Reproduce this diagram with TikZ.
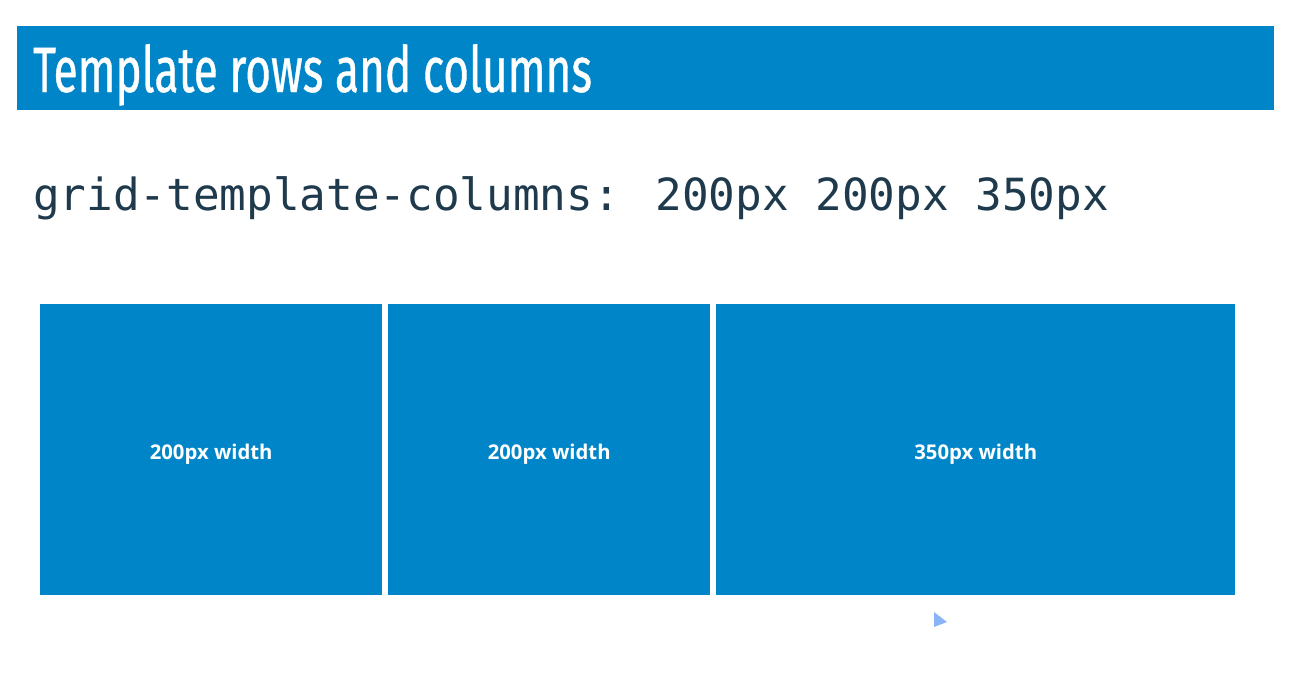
\documentclass[tikz,border=0pt]{standalone}
\usepackage{fontspec}
\setmainfont{Open Sans}
\newfontfamily\titlefont[FakeStretch=0.69,FakeBold=0.6]{Fira Sans}
\newfontfamily\codefont{DejaVu Sans Mono}
\definecolor{gridblue}{HTML}{0086C8}
\definecolor{codeink}{HTML}{1E3A4C}
\definecolor{pointer}{HTML}{8AB4F8}
\newcommand{\celltext}[1]{\raisebox{-9.5pt}[0pt][0pt]{#1}}
\begin{document}
\begin{tikzpicture}[x=1pt,y=-1pt,
  cell/.style={fill=gridblue,draw=none,inner sep=0pt,anchor=north west,
    minimum height=291pt,text=white,font=\fontsize{20.3}{24}\selectfont\bfseries}]
\useasboundingbox (0,0) rectangle (1293,681);
% heading banner
\node[fill=gridblue,anchor=north west,inner sep=0pt,minimum width=1257pt,minimum height=84pt] (banner) at (17,26) {};
\node[anchor=base west,inner sep=0pt,text=white,font=\titlefont\fontsize{64}{70}\selectfont] (title) at (33,92) {Template rows and columns};
% css declaration
\node[anchor=base west,inner sep=0pt,text=codeink,font=\codefont\fontsize{44.3}{50}\selectfont] (code) at (33,210) {grid-template-columns: 200px 200px 350px};
% grid tracks
\node[cell,minimum width=342pt] (c1) at (40,304) {\celltext{200px width}};
\node[cell,minimum width=322pt] (c2) at (388,304) {\celltext{200px width}};
\node[cell,minimum width=519pt] (c3) at (716,304) {\celltext{350px width}};
% mouse pointer
\fill[pointer] (934,612) -- (934,627) -- (947,622) -- cycle;
\end{tikzpicture}
\end{document}
